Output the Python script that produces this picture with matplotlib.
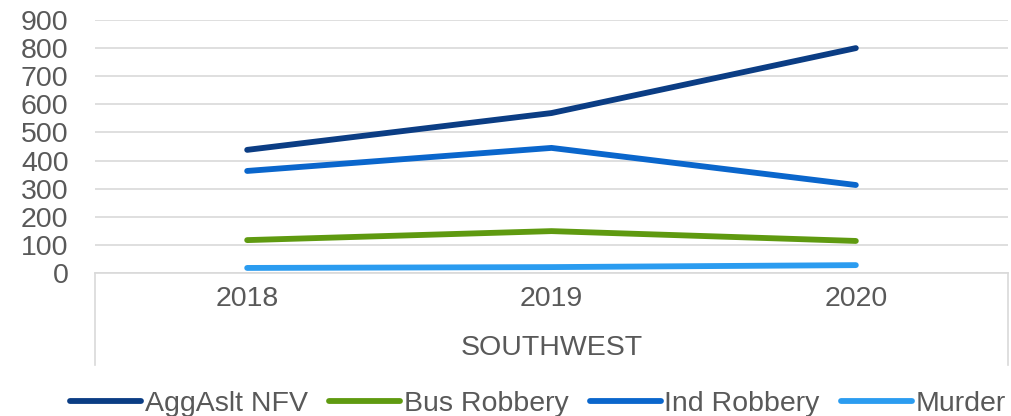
import matplotlib
matplotlib.use("Agg")
import matplotlib.pyplot as plt

### Dati ###
years = ["2018", "2019", "2020"]
agg_aslt = [438, 569, 800]
bus_robbery = [117, 149, 114]
ind_robbery = [363, 445, 313]
murder = [18, 21, 28]
region = "SOUTHWEST"

series = [("AggAslt NFV", agg_aslt, "#0b3d84"),
          ("Bus Robbery", bus_robbery, "#5f9a10"),
          ("Ind Robbery", ind_robbery, "#0a66cc"),
          ("Murder", murder, "#2b9cf0")]

plt.rcParams["font.family"] = ["Liberation Sans", "DejaVu Sans"]
text_col = "#595959"
grid_col = "#d9d9d9"
fs = 20.5

fig = plt.figure(figsize=(10.11, 4.16), dpi=100)
ax = fig.add_axes([95/1011, 143/416, 913/1011, 253/416])

x = range(len(years))
for name, vals, col in series:
    ax.plot(x, vals, color=col, lw=4.2, solid_capstyle="round", label=name)

ax.set_xlim(-0.5, len(years) - 0.5)
ax.set_ylim(0, 900)
ax.set_yticks(range(0, 901, 100))
ax.yaxis.grid(True, color=grid_col, lw=1.2)
ax.set_axisbelow(True)
for s in ["top", "right", "left"]:
    ax.spines[s].set_visible(False)
ax.spines["bottom"].set_color(grid_col)
ax.spines["bottom"].set_linewidth(1.2)
ax.tick_params(axis="y", length=0, pad=19, labelsize=fs, labelcolor=text_col)
ax.tick_params(axis="x", length=0, pad=9, labelsize=fs, labelcolor=text_col)
ax.set_xticks(list(x))
ax.set_xticklabels(years)

# bordi della tabella categorie sotto l'asse
for xe in [0, 1]:
    ax.plot([xe, xe], [0, -0.365], transform=ax.transAxes, color=grid_col,
            lw=1.2, clip_on=False)
ax.text(0.5, -0.295, region, transform=ax.transAxes, ha="center", va="center",
        fontsize=fs, color=text_col)

leg = fig.legend(loc="center", bbox_to_anchor=(538/1011, 1 - 404/416), ncol=4,
                 frameon=False, fontsize=fs, handlelength=2.5, handletextpad=0.12,
                 columnspacing=0.75, borderaxespad=0)
for t in leg.get_texts():
    t.set_color(text_col)

fig.savefig("out.png", dpi=100)
